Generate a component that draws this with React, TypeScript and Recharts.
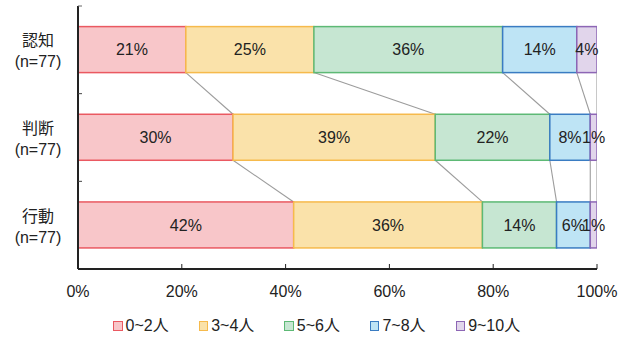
import React from 'react';
import { BarChart, Bar, XAxis, YAxis, Legend, LabelList } from 'recharts';

// ---- data ----
const categories = ['認知', '判断', '行動'];
const sampleSizes = [77, 77, 77];
const seriesNames = ['0~2人', '3~4人', '5~6人', '7~8人', '9~10人'];
const counts0to2 = [16, 23, 32];
const counts3to4 = [19, 30, 28];
const counts5to6 = [28, 17, 11];
const counts7to8 = [11, 6, 5];
const counts9to10 = [3, 1, 1];
const xTicks = [0, 20, 40, 60, 80, 100];

// ---- styles ----
const FONT = "'Liberation Sans', Arial, 'Noto Sans CJK JP', sans-serif";
const fills = ['#F8C6C9', '#FAE2AA', '#C6E6D2', '#BEE4F5', '#E1D5EB'];
const strokes = ['#EA5961', '#F6BA4C', '#5DB975', '#3A7CC2', '#8D66B5'];
const CONNECTOR = '#9C9C9C';

const W = 627;
const H = 340;
const MARGIN = { top: 6, right: 30, bottom: 5, left: 8 };
const YAXIS_W = 70;
const XAXIS_H = 36;
const LEGEND_H = 30;
const PLOT_H = H - MARGIN.top - MARGIN.bottom - XAXIS_H - LEGEND_H;
const STEP = PLOT_H / categories.length;

const allCounts = [counts0to2, counts3to4, counts5to6, counts7to8, counts9to10];
const keys = seriesNames.map((_, i) => 's' + i);
const data = categories.map((c, i) => {
  const row: any = { name: c, n: sampleSizes[i] };
  keys.forEach((k, s) => {
    row[k] = (allCounts[s][i] / sampleSizes[i]) * 100;
  });
  return row;
});

const cumTo = (row: any, s: number) => {
  let c = 0;
  for (let k = 0; k <= s; k++) c += row[keys[k]];
  return c;
};

const makeShape = (s: number) => (props: any) => {
  const { x, y, width, height, index } = props;
  const row = data[index];
  const pct = row[keys[s]];
  const pxPer = width / pct;
  const right = x + width;
  const left = right - cumTo(row, s) * pxPer;
  let line = null;
  if (index < data.length - 1) {
    const nx = left + cumTo(data[index + 1], s) * pxPer;
    line = (
      <line x1={right} y1={y + height} x2={nx} y2={y + STEP} stroke={CONNECTOR} strokeWidth={1.1} />
    );
  }
  return (
    <g>
      <rect x={x} y={y} width={width} height={height} fill={fills[s]} stroke={strokes[s]} strokeWidth={1.5} />
      {line}
    </g>
  );
};

const YTick = (props: any) => {
  const { x, y, payload, index } = props;
  const half = payload.offset || STEP / 2;
  return (
    <g>
      <text x={x - 40} y={y - 9} textAnchor="middle" dominantBaseline="central" fontSize={16} fontFamily={FONT} fill="#222">
        {payload.value}
      </text>
      <text x={x - 40} y={y + 12} textAnchor="middle" dominantBaseline="central" fontSize={16} fontFamily={FONT} fill="#222">
        {'(n=' + sampleSizes[index] + ')'}
      </text>
      {index === 0 ? (
        <line x1={x} y1={y - half} x2={x + 4} y2={y - half} stroke="#666" strokeWidth={1} />
      ) : null}
      {index < categories.length - 1 ? (
        <line x1={x} y1={y + half} x2={x + 4} y2={y + half} stroke="#444" strokeWidth={1} />
      ) : null}
    </g>
  );
};

const XTick = (props: any) => {
  const { x, y, payload } = props;
  return (
    <g>
      <line x1={x} y1={y} x2={x} y2={y - 5} stroke="#222" strokeWidth={1} />
      <text x={x} y={y + 22} textAnchor="middle" dominantBaseline="central" fontSize={16} fontFamily={FONT} fill="#222">
        {payload.value + '%'}
      </text>
    </g>
  );
};

const LegendContent = () => (
  <div
    style={{
      height: LEGEND_H,
      display: 'flex',
      alignItems: 'flex-end',
      paddingLeft: 113,
      gap: 30,
      fontFamily: FONT,
      fontSize: 16,
      color: '#222',
      boxSizing: 'border-box',
      paddingBottom: 0,
    }}
  >
    {seriesNames.map((name, i) => (
      <div key={name} style={{ display: 'flex', alignItems: 'center', lineHeight: '18px' }}>
        <span
          style={{
            display: 'inline-block',
            width: 7.5,
            height: 7.5,
            background: fills[i],
            border: `1.5px solid ${strokes[i]}`,
            marginRight: 3,
          }}
        />
        <span>{name}</span>
      </div>
    ))}
  </div>
);

export default function App() {
  return (
    <div style={{ position: 'absolute', left: 0, top: 0, width: W, height: H, background: '#fff' }}>
      <BarChart
        width={W}
        height={H}
        data={data}
        layout="vertical"
        margin={MARGIN}
        barCategoryGap="23.5%"
      >
        <XAxis
          type="number"
          domain={[0, 100]}
          ticks={xTicks}
          allowDataOverflow
          height={XAXIS_H}
          tickSize={0}
          tickMargin={0}
          tickLine={false}
          axisLine={{ stroke: '#222', strokeWidth: 2 }}
          tick={<XTick />}
          interval={0}
        />
        <YAxis
          type="category"
          dataKey="name"
          width={YAXIS_W}
          tickSize={0}
          tickMargin={0}
          tickLine={false}
          axisLine={{ stroke: '#222', strokeWidth: 2 }}
          tick={<YTick />}
          interval={0}
        />
        <Legend
          verticalAlign="bottom"
          height={LEGEND_H}
          wrapperStyle={{ left: 0, width: W }}
          content={<LegendContent />}
        />
        {keys.map((k, s) => (
          <Bar
            key={k}
            dataKey={k}
            name={seriesNames[s]}
            stackId="a"
            isAnimationActive={false}
            fill={fills[s]}
            stroke={strokes[s]}
            shape={makeShape(s)}
          >
            <LabelList
              dataKey={k}
              position="center"
              formatter={(v: any) => Math.round(Number(v)) + '%'}
              fill="#222"
              fontSize={16}
              fontFamily={FONT}
            />
          </Bar>
        ))}
      </BarChart>
    </div>
  );
}
